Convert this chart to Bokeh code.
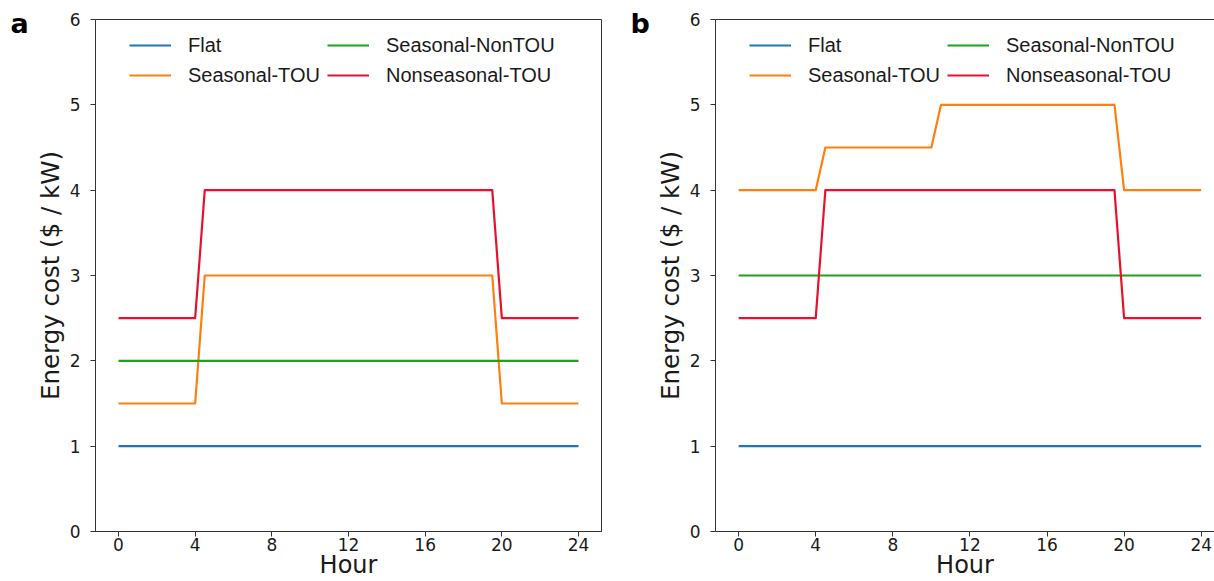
from bokeh.plotting import figure
from bokeh.layouts import row, column
from bokeh.models import Legend, LegendItem, FixedTicker, LinearAxis, Range1d
from bokeh.core.properties import value
from bokeh.embed import file_html
from bokeh.resources import INLINE

# ---------------- data ----------------
series_names = ["Flat", "Seasonal-TOU", "Seasonal-NonTOU", "Nonseasonal-TOU"]
series_colors = ["#1f77b4", "#ff7f0e", "#1ca31c", "#e8112d"]

x_ticks = [0, 4, 8, 12, 16, 20, 24]
y_ticks = [0, 1, 2, 3, 4, 5, 6]
x_title = "Hour"
y_title = "Energy cost ($ / kW)"

# panel a: (hours, $/kW) vertices
a_flat_hours = [0, 24]
a_flat_cost = [1.0, 1.0]
a_stou_hours = [0, 4, 4.5, 19.5, 20, 24]
a_stou_cost = [1.5, 1.5, 3.0, 3.0, 1.5, 1.5]
a_snontou_hours = [0, 24]
a_snontou_cost = [2.0, 2.0]
a_nstou_hours = [0, 4, 4.5, 19.5, 20, 24]
a_nstou_cost = [2.5, 2.5, 4.0, 4.0, 2.5, 2.5]

# panel b
b_flat_hours = [0, 24]
b_flat_cost = [1.0, 1.0]
b_stou_hours = [0, 4, 4.5, 10, 10.5, 19.5, 20, 24]
b_stou_cost = [4.0, 4.0, 4.5, 4.5, 5.0, 5.0, 4.0, 4.0]
b_snontou_hours = [0, 24]
b_snontou_cost = [3.0, 3.0]
b_nstou_hours = [0, 4, 4.5, 19.5, 20, 24]
b_nstou_cost = [2.5, 2.5, 4.0, 4.0, 2.5, 2.5]

panel_a = [(a_flat_hours, a_flat_cost), (a_stou_hours, a_stou_cost),
           (a_snontou_hours, a_snontou_cost), (a_nstou_hours, a_nstou_cost)]
panel_b = [(b_flat_hours, b_flat_cost), (b_stou_hours, b_stou_cost),
           (b_snontou_hours, b_snontou_cost), (b_nstou_hours, b_nstou_cost)]

AXIS_COLOR = "#333333"
TEXT_COLOR = "#1a1a1a"
H = 581          # page height


def letter_panel(letter, width, x_pos):
    p = figure(width=width, height=H, output_backend="svg", toolbar_location=None,
               title=None, x_range=Range1d(0, width), y_range=Range1d(0, H),
               x_axis_location=None, y_axis_location=None, min_border=0,
               background_fill_color="white", border_fill_color="white")
    p.outline_line_color = None
    p.xgrid.visible = False
    p.ygrid.visible = False
    p.text(x=[x_pos], y=[H - 23], text=[letter], text_font=value("DejaVu Sans"),
           text_font_style="bold", text_font_size="27px", text_color="black",
           text_baseline="alphabetic", text_align="left")
    return p


def make_panel(series, width, border_left, border_right, x_end, full_outline):
    p = figure(width=width, height=H, output_backend="svg", toolbar_location=None,
               title=None, x_range=Range1d(-1.2, x_end), y_range=Range1d(0, 6),
               min_border_left=border_left, min_border_right=border_right,
               min_border_top=19, min_border_bottom=50,
               background_fill_color="white", border_fill_color="white")
    p.xgrid.visible = False
    p.ygrid.visible = False

    for ax, ticks in ((p.xaxis[0], x_ticks), (p.yaxis[0], y_ticks)):
        ax.ticker = FixedTicker(ticks=ticks)
        ax.axis_line_color = AXIS_COLOR
        ax.major_tick_line_color = AXIS_COLOR
        ax.major_tick_in = 0
        ax.major_tick_out = 5
        ax.minor_tick_line_color = None
        ax.major_label_text_font = "DejaVu Sans"
        ax.major_label_text_font_size = "17px"
        ax.major_label_text_color = TEXT_COLOR
        ax.axis_label_text_font = "DejaVu Sans"
        ax.axis_label_text_font_style = "normal"
        ax.axis_label_text_color = TEXT_COLOR
    xa = p.xaxis[0]
    ya = p.yaxis[0]
    xa.major_label_standoff = 1
    xa.axis_label = x_title
    xa.axis_label_text_font_size = "24px"
    xa.axis_label_standoff = -3
    ya.major_label_standoff = 10
    ya.axis_label = y_title
    ya.axis_label_text_font_size = "24.5px"
    ya.axis_label_standoff = 2

    if full_outline:
        p.outline_line_color = AXIS_COLOR
        p.outline_line_width = 1
    else:
        p.outline_line_color = None
        top = LinearAxis(ticker=FixedTicker(ticks=[]), major_tick_out=0, major_tick_in=0,
                         minor_tick_out=0, minor_tick_in=0, major_label_standoff=0,
                         major_label_text_font_size="0px", axis_line_color=AXIS_COLOR)
        p.add_layout(top, "above")

    items = []
    for (hrs, cost), name, col in zip(series, series_names, series_colors):
        r = p.line(hrs, cost, line_color=col, line_width=2.2, line_join="round")
        items.append(LegendItem(label=name, renderers=[r]))

    legend = Legend(items=items, location=(34, 444), orientation="vertical", ncols=2,
                    glyph_width=42, glyph_height=24, label_height=24, label_width=133,
                    label_standoff=17, spacing=6, padding=0, margin=0,
                    border_line_color=None, background_fill_alpha=0,
                    label_text_font="Liberation Sans", label_text_font_size="20px",
                    label_text_color=TEXT_COLOR)
    p.add_layout(legend)
    return p


let_a = letter_panel("a", 32, 10)
pa = make_panel(panel_a, 588, 56, 19, 25.2, True)
let_b = letter_panel("b", 32, 10)
pb = make_panel(panel_b, 562, 59, 0, 24.69, False)

layout = row(let_a, column(pa), let_b, column(pb))
open("out.html", "w").write(file_html(layout, INLINE))
